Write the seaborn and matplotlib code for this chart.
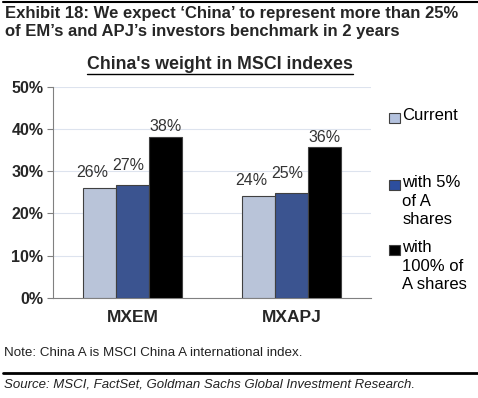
import pandas as pd
import matplotlib.pyplot as plt
import seaborn as sns
from matplotlib.lines import Line2D
from matplotlib.patches import Rectangle

# data
indexes = ['MXEM', 'MXAPJ']
series = ['Current', 'with 5%\nof A\nshares', 'with\n100% of\nA shares']
current = [25.9, 24.1]
with_5pct = [26.7, 24.7]
with_100pct = [38.2, 35.7]
y_ticks = [0, 10, 20, 30, 40, 50]
colors = ['#B4C2DE', '#2D4E9E', '#000000']

rows = []
for s, vals in zip(series, [current, with_5pct, with_100pct]):
    for idx, v in zip(indexes, vals):
        rows.append({'index': idx, 'series': s, 'weight': v})
df = pd.DataFrame(rows)

sns.set_style('white')
plt.rcParams['font.family'] = ['Liberation Sans', 'DejaVu Sans']

fig = plt.figure(figsize=(4.78, 3.98), dpi=100)
ax = fig.add_axes([0.111, 0.252, 0.665, 0.530])

sns.barplot(data=df, x='index', y='weight', hue='series', hue_order=series,
            order=indexes, palette=colors, width=0.62, edgecolor='#404040',
            linewidth=0.8, legend=False, ax=ax, zorder=3)

# Excel nudged the first two labels left so they don't collide
nudges = [(-5, 6), (-3, 9), (0, 1.5)]
for cont, (dx, dy) in zip(ax.containers, nudges):
    anns = ax.bar_label(cont, fmt='{:.0f}%', padding=3, fontsize=11.5, color='#333333')
    for a in anns:
        a.xyann = (dx, dy)

ax.set_ylim(0, 50)
ax.set_xlim(-0.5, 1.5)
ax.set_yticks(y_ticks)
ax.set_yticklabels([f'{t}%' for t in y_ticks], fontsize=11.5, fontweight='bold')
ax.set_xticks([0, 1])
ax.set_xticklabels(indexes, fontsize=12.5, fontweight='bold')
ax.set_xticks([-0.5, 0.5, 1.5], minor=True)
ax.tick_params(axis='x', which='major', length=0, pad=9)
ax.tick_params(axis='x', which='minor', length=5, color='#808080', width=0.8)
ax.tick_params(axis='y', length=4, color='#808080', width=0.8, pad=3, left=True)
ax.set_xlabel('')
ax.set_ylabel('')
ax.yaxis.grid(True, color='#DDE3EE', linewidth=0.8, zorder=0)
for side in ['top', 'right']:
    ax.spines[side].set_visible(False)
for side in ['left', 'bottom']:
    ax.spines[side].set_color('#808080')
    ax.spines[side].set_linewidth(0.8)

# legend drawn by hand so the square sits beside the first line
leg_y = [0.717, 0.548, 0.385]
for s, c, y in zip(series, colors, leg_y):
    fig.patches.append(Rectangle((0.814, y - 0.026), 0.023, 0.026,
                                 transform=fig.transFigure, facecolor=c,
                                 edgecolor='#404040', linewidth=0.8))
    fig.text(0.842, y + 0.012, s, fontsize=12, va='top', ha='left',
             linespacing=1.3, color='black')

# header
fig.lines.append(Line2D([0.006, 1.0], [0.995, 0.995], transform=fig.transFigure,
                        color='black', linewidth=1.5))
fig.text(0.01, 0.985, 'Exhibit 18: We expect \u2018China\u2019 to represent more than 25%\n'
         'of EM\u2019s and APJ\u2019s investors benchmark in 2 years',
         fontsize=12, fontweight='bold', va='top', ha='left', linespacing=1.25)
sub = fig.text(0.461, 0.838, "China's weight in MSCI indexes", fontsize=12.8,
               fontweight='bold', ha='center', va='center')

# footer
fig.text(0.008, 0.113, 'Note: China A is MSCI China A international index.',
         fontsize=9.6, va='center', ha='left', color='#222222')
fig.lines.append(Line2D([0.006, 1.0], [0.064, 0.064], transform=fig.transFigure,
                        color='black', linewidth=2))
fig.text(0.008, 0.033, 'Source: MSCI, FactSet, Goldman Sachs Global Investment Research.',
         fontsize=9.5, style='italic', va='center', ha='left', color='#222222')

# underline the chart subtitle
fig.canvas.draw()
bb = sub.get_window_extent().transformed(fig.transFigure.inverted())
fig.lines.append(Line2D([bb.x0, bb.x1], [bb.y0 - 0.002, bb.y0 - 0.002],
                        transform=fig.transFigure, color='black', linewidth=1))

fig.savefig('out.png', dpi=100)
